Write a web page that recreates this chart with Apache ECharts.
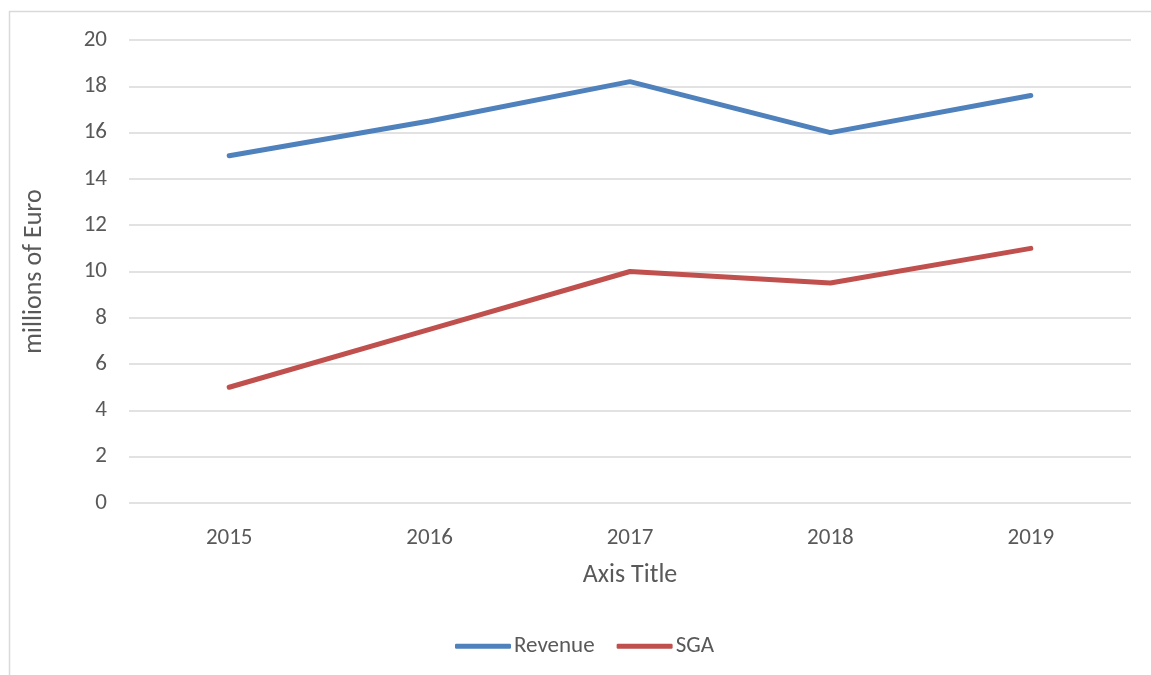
<style>body { margin: 0; }</style>
<div id="chart" style="width: 1151px; height: 675px;"></div>

<script src="https://cdn.jsdelivr.net/npm/echarts@6.0.0/dist/echarts.min.js"></script>
<script>
  const chart = echarts.init(document.getElementById('chart'));

  const years = ['2015', '2016', '2017', '2018', '2019'];
  const revenue = [15, 16.5, 18.2, 16, 17.6];
  const sga = [5, 7.5, 10, 9.5, 11];

  const font = 'Carlito, Calibri, "Liberation Sans", sans-serif';
  const textColor = '#595959';

  const option = {
    animation: false,
    backgroundColor: '#fff',
    textStyle: { fontFamily: font },
    graphic: [{
      type: 'rect',
      shape: { x: 9.5, y: 11.5, width: 1160, height: 700 },
      style: { fill: 'none', stroke: '#d9d9d9', lineWidth: 1.5 },
      silent: true
    }],
    grid: { left: 129, right: 20, top: 40, bottom: 172 },
    legend: {
      top: 629,
      left: 455,
      padding: 0,
      icon: 'roundRect',
      itemWidth: 56,
      itemHeight: 5,
      itemGap: 22,
      textStyle: { color: textColor, fontSize: 23, fontFamily: font, padding: [0, 0, 0, -2] },
      data: ['Revenue', 'SGA']
    },
    xAxis: {
      type: 'category',
      data: years,
      boundaryGap: true,
      name: 'Axis Title',
      nameLocation: 'middle',
      nameMoveOverlap: false,
      nameGap: 53,
      nameTextStyle: { color: textColor, fontSize: 26 },
      axisLine: { show: false },
      axisTick: { show: false },
      axisLabel: { color: textColor, fontSize: 23, margin: 18 }
    },
    yAxis: {
      type: 'value',
      min: 0,
      max: 20,
      interval: 2,
      name: 'millions of Euro',
      nameLocation: 'middle',
      nameMoveOverlap: false,
      nameGap: 75,
      nameTextStyle: { color: textColor, fontSize: 26 },
      axisLabel: { color: textColor, fontSize: 23, margin: 22 },
      splitLine: { lineStyle: { color: '#d9d9d9', width: 1.5 } }
    },
    series: [
      {
        name: 'Revenue',
        type: 'line',
        data: revenue,
        showSymbol: false,
        itemStyle: { color: '#4f81bd' },
        lineStyle: { color: '#4f81bd', width: 5, cap: 'round', join: 'round' }
      },
      {
        name: 'SGA',
        type: 'line',
        data: sga,
        showSymbol: false,
        itemStyle: { color: '#c0504d' },
        lineStyle: { color: '#c0504d', width: 5, cap: 'round', join: 'round' }
      }
    ]
  };

  chart.setOption(option);
</script>
